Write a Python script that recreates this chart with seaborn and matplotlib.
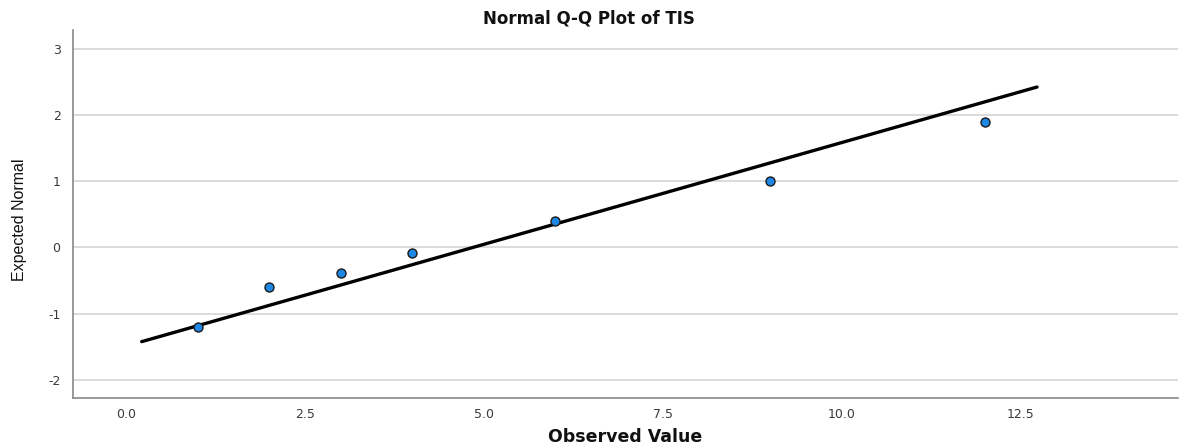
import matplotlib
matplotlib.use("Agg")
import matplotlib.pyplot as plt
import seaborn as sns
import pandas as pd

# Data
observed = [1, 2, 3, 4, 6, 9, 12]
expected = [-1.20, -0.60, -0.385, -0.08, 0.40, 1.00, 1.90]
line_x = [0.22, 12.73]
line_y = [-1.42, 2.42]
x_ticks = [0.0, 2.5, 5.0, 7.5, 10.0, 12.5]
y_ticks = [-2, -1, 0, 1, 2, 3]

sns.set_theme(style="white")
plt.rcParams['font.family'] = ['DejaVu Sans']
plt.rcParams['font.stretch'] = 'normal'

fig = plt.figure(figsize=(11.79, 4.48), dpi=100)
ax = fig.add_axes([73/1179, 1 - 398/448, (1178-73)/1179, (398-30)/448])

df = pd.DataFrame({"obs": observed, "exp": expected})
sns.lineplot(x=line_x, y=line_y, ax=ax, color="black", linewidth=2.4, zorder=3)
sns.scatterplot(data=df, x="obs", y="exp", ax=ax, s=42, color="#1E88E5",
                edgecolor="#1a1a1a", linewidth=1.0, zorder=4)

ax.set_xlim(-0.74, 14.7)
ax.set_ylim(-2.27, 3.28)
ax.set_xticks(x_ticks)
ax.set_xticklabels([f"{t:.1f}" for t in x_ticks])
ax.set_yticks(y_ticks)
ax.set_yticklabels([str(t) for t in y_ticks])
ax.tick_params(axis="x", length=0, labelsize=9, labelcolor="#3a3a3a", pad=7)
ax.tick_params(axis="y", length=0, labelsize=9, labelcolor="#3a3a3a", pad=9)
ax.yaxis.grid(True, color="#d4d4d4", linewidth=1.2)
ax.xaxis.grid(False)
for s in ["top", "right"]:
    ax.spines[s].set_visible(False)
for s in ["left", "bottom"]:
    ax.spines[s].set_color("#888888")
    ax.spines[s].set_linewidth(1.2)

ax.set_xlabel("")
ax.set_ylabel("")
fig.text(625/1179, 1 - 437/448, "Observed Value", ha="center", va="center",
         fontsize=12.5, fontweight="bold", fontstretch="normal", color="#111111")
fig.text(20/1179, 1 - 220/448, "Expected Normal", ha="center", va="center",
         rotation=90, fontsize=11.5, color="#111111",
         family=['Liberation Sans'])
fig.text(0.4995, 1 - 18/448, "Normal Q-Q Plot of TIS", ha="center", va="center",
         fontsize=12, fontweight="bold", fontstretch="normal", color="#111111")

fig.savefig("out.png", dpi=100)
